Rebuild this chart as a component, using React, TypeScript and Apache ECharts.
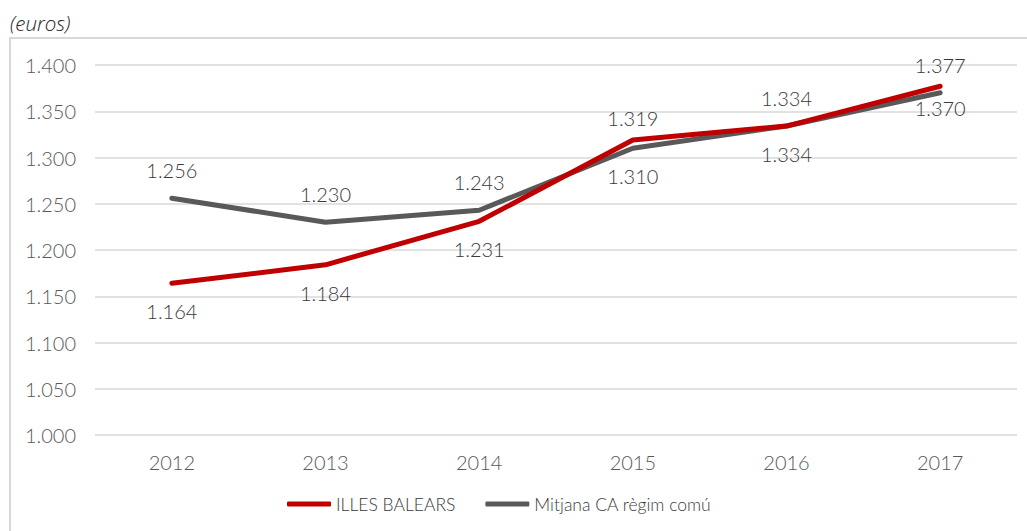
import React, { useEffect, useRef } from "react";
import * as echarts from "echarts";

const categories = ["2012", "2013", "2014", "2015", "2016", "2017"];
const balears = [1164, 1184, 1231, 1319, 1334, 1377];
const mitjana = [1256, 1230, 1243, 1310, 1334, 1370];
const balearsLabelPos = ["bottom", "bottom", "bottom", "top", "top", "top"];
const mitjanaLabelPos = ["top", "top", "top", "bottom", "bottom", "bottom"];

const FONT = "Lato, 'Open Sans', sans-serif";
const FS = 20;
const FW = 300;
const fmt = (v: number) => {
  const s = String(Math.round(v));
  return s.length > 3 ? s.slice(0, s.length - 3) + "." + s.slice(-3) : s;
};

export default function App() {
  const ref = useRef<HTMLDivElement>(null);
  useEffect(() => {
    document.body.style.margin = "0";
    const chart = echarts.init(ref.current!, undefined, { renderer: "svg" });
    const mk = (vals: number[], pos: string[], special: Record<number, number>) =>
      vals.map((v, i) => ({
        value: v,
        label: {
          position: pos[i],
          distance: special[i] !== undefined ? special[i] : 18,
        },
      }));
    const labelStyle = {
      show: true,
      fontSize: FS,
      fontWeight: FW,
      color: "#3a3a3a",
      formatter: (p: any) => fmt(p.value),
    };
    chart.setOption({
      animation: false,
      textStyle: { fontFamily: FONT },
      graphic: [
        {
          type: "rect",
          shape: { x: 10, y: 38, width: 1040, height: 520 },
          style: { fill: "none", stroke: "#d9d9d9", lineWidth: 2 },
          silent: true,
        },
        {
          type: "text",
          x: 10,
          y: 23,
          style: {
            text: "(euros)",
            font: "italic 300 20.5px 'Open Sans', sans-serif",
            fill: "#262626",
            verticalAlign: "middle",
          },
        },
      ],
      grid: { left: 95, right: 10, top: 65, bottom: 96 },
      legend: {
        bottom: 13,
        left: 282,
        itemWidth: 44,
        itemHeight: 5,
        itemGap: 30,
        icon: "roundRect",
        textStyle: { fontSize: 17.5, fontWeight: FW, color: "#3a3a3a", fontFamily: FONT },
        data: ["ILLES BALEARS", "Mitjana CA règim comú"],
      },
      xAxis: {
        type: "category",
        data: categories,
        axisLine: { show: false },
        axisTick: { show: false },
        axisLabel: { fontSize: FS, fontWeight: FW, color: "#595959", margin: 17 },
      },
      yAxis: {
        type: "value",
        min: 1000,
        max: 1400,
        interval: 50,
        axisLabel: { fontSize: FS, fontWeight: FW, color: "#595959", margin: 19, formatter: fmt },
        splitLine: { lineStyle: { color: "#d9d9d9", width: 1.5 } },
      },
      series: [
        {
          name: "ILLES BALEARS",
          type: "line",
          data: mk(balears, balearsLabelPos, { 3: 12, 5: 11 }),
          showSymbol: true,
          symbol: "circle",
          symbolSize: 0.1,
          lineStyle: { color: "#C00000", width: 5, cap: "round" },
          itemStyle: { color: "#C00000" },
          label: labelStyle,
          z: 3,
        },
        {
          name: "Mitjana CA règim comú",
          type: "line",
          data: mk(mitjana, mitjanaLabelPos, { 5: 5 }),
          showSymbol: true,
          symbol: "circle",
          symbolSize: 0.1,
          lineStyle: { color: "#595959", width: 5, cap: "round" },
          itemStyle: { color: "#595959" },
          label: labelStyle,
          z: 2,
        },
      ],
    });
    return () => chart.dispose();
  }, []);
  return <div ref={ref} style={{ width: 1027, height: 531 }} />;
}
